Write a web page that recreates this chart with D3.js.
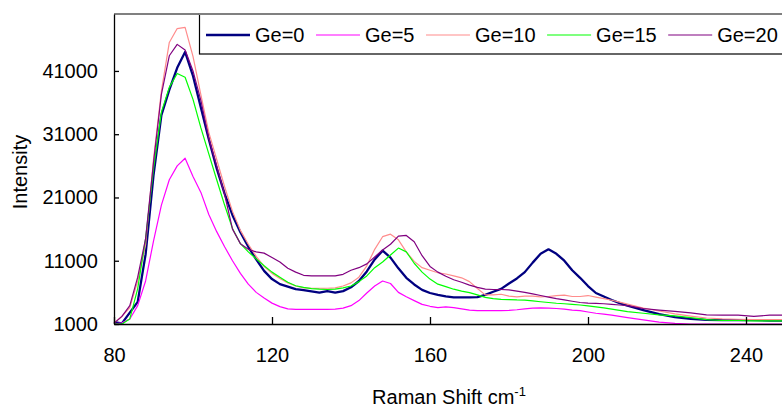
<!DOCTYPE html>
<html>
<head>
<meta charset="utf-8">
<script src="https://cdn.jsdelivr.net/npm/d3@7"></script>
<style>
  body { margin: 0; background: #fff; }
  svg text { font-family: Arial, "Liberation Sans", sans-serif; fill: #000; }
</style>
</head>
<body>
<svg id="chart"></svg>
<script>
// Raman shift sample points (cm-1)
var shift = [80,82,84,86,88,90,92,94,96,98,100,102,104,106,108,110,112,114,116,118,
  120,122,124,126,128,130,132,134,136,138,140,142,144,146,148,150,152,154,156,158,
  160,162,164,166,168,170,172,174,176,178,180,182,184,186,188,190,192,194,196,198,
  200,202,204,206,208,210,214,218,222,226,230,234,238,242,246,250];

var ge0 = [1300,1100,2800,4500,12000,24500,34000,38000,41500,44000,40200,35200,30200,25600,21600,18200,15500,13200,11200,9400,
  8100,7300,6900,6500,6350,6150,5950,6200,5950,6200,6800,7800,9300,11200,12600,11500,9800,8300,7250,6400,
  5900,5600,5350,5200,5200,5200,5250,5600,6100,6550,7400,8200,9200,10700,12100,12800,12100,11000,9500,8300,
  7000,5900,5350,4800,4300,3900,3200,2550,2100,1800,1650,1600,1600,1600,1550,1550];

var ge5 = [1000,1200,1800,3900,7800,14100,19800,23800,26000,27200,24300,21800,18300,15600,13200,11000,9000,7300,6000,5100,
  4300,3750,3400,3300,3300,3300,3300,3300,3350,3500,3900,4700,5900,7000,7800,7400,6000,5300,4700,4100,
  3800,3600,3700,3600,3400,3200,3100,3100,3100,3100,3150,3250,3400,3500,3550,3500,3450,3350,3200,3100,
  2900,2700,2550,2400,2200,2000,1650,1300,1100,1000,1000,1000,1000,1000,1000,1000];

var ge10 = [1200,2200,3600,7800,13500,27000,37800,45500,47700,47900,43300,37200,31300,27000,22700,18800,15800,13600,11700,10100,
  9000,8200,7500,7000,6700,6650,6650,6650,6700,7000,7500,8400,10200,12800,14800,15200,14300,12400,10900,9900,
  9500,9100,8900,8600,8300,7700,6600,5600,5600,5700,5400,5300,5400,5400,5300,5350,5500,5550,5350,5350,
  5500,5250,5000,4750,4450,4150,3500,3050,2600,2250,1950,1800,1750,1700,1700,1700];

var ge15 = [1000,1000,1800,6600,14500,25500,34500,38400,40600,40000,36500,32000,27900,23800,19800,16100,13700,12400,11300,10200,
  9200,8400,7600,7050,6800,6600,6500,6450,6500,6700,7000,7700,8600,9900,10800,11900,13000,12400,10600,9200,
  8100,7300,6900,6500,6200,5950,5600,5200,5000,4900,4850,4800,4780,4650,4520,4400,4280,4200,4100,4000,
  3850,3720,3550,3350,3150,2950,2700,2450,2280,2000,1700,1550,1550,1500,1500,1500];

var ge20 = [1100,2200,3900,8400,14500,26500,37300,43400,45200,44300,41000,36300,30400,26000,21500,16000,13700,12800,12400,12200,
  11500,10800,9800,9200,8700,8600,8600,8600,8600,8850,9500,9900,10500,11600,12700,13600,14900,15000,14000,11800,
  10100,9200,8550,8000,7600,7150,6800,6500,6450,6450,6400,6200,6000,5750,5500,5250,5000,4800,4600,4400,
  4300,4250,4200,4100,4000,3900,3450,3200,3000,2750,2450,2400,2400,2200,2400,2400];

var seriesNames = ["Ge=0", "Ge=5", "Ge=10", "Ge=15", "Ge=20"];
var seriesValues = [ge0, ge5, ge10, ge15, ge20];
var seriesColors = ["#000080", "#ff00ff", "#ff8c8c", "#00ff00", "#800080"];
var seriesWidths = [2.3, 1.2, 1.2, 1.2, 1.2];

var xTicks = [80, 120, 160, 200, 240];
var yTicks = [1000, 11000, 21000, 31000, 41000];

var screen = {width: 782, height: 408};
var plot = {left: 114, top: 14, bottom: 324};

var svg = d3.select("#chart")
    .attr("width", screen.width)
    .attr("height", screen.height);

var xScale = d3.scaleLinear()
    .domain([80, 250])
    .range([plot.left, plot.left + 170 * 3.95]);

var yScale = d3.scaleLinear()
    .domain([1000, 50000])
    .range([plot.bottom, plot.top]);

// gray top edge of the plot area
svg.append("line")
    .attr("x1", plot.left).attr("x2", screen.width)
    .attr("y1", plot.top).attr("y2", plot.top)
    .attr("stroke", "#808080")
    .attr("stroke-width", 2);

// lines
var lineGen = d3.line()
    .x(function(d, i) { return xScale(shift[i]); })
    .y(function(d) { return yScale(d); });

svg.append("g")
    .selectAll("path")
    .data(seriesValues)
    .enter()
    .append("path")
    .attr("fill", "none")
    .attr("stroke", function(d, i) { return seriesColors[i]; })
    .attr("stroke-width", function(d, i) { return seriesWidths[i]; })
    .attr("stroke-linejoin", "round")
    .attr("d", lineGen);

// axes
var xAxis = d3.axisBottom(xScale)
    .tickValues(xTicks)
    .tickSizeInner(-7)
    .tickSizeOuter(0)
    .tickPadding(24);

var yAxis = d3.axisLeft(yScale)
    .tickValues(yTicks)
    .tickFormat(d3.format("d"))
    .tickSizeInner(-5)
    .tickSizeOuter(0)
    .tickPadding(16);

var gx = svg.append("g")
    .attr("transform", "translate(0," + plot.bottom + ")")
    .call(xAxis);

var gy = svg.append("g")
    .attr("transform", "translate(" + plot.left + ",0)")
    .call(yAxis);

[gx, gy].forEach(function(g) {
    g.selectAll("path, line").attr("stroke", "#000").attr("stroke-width", 1.3);
    g.selectAll("text").style("font-size", "20px")
        .style("font-family", "Arial, 'Liberation Sans', sans-serif");
});

// axis titles
var xt = svg.append("text")
    .attr("x", 449)
    .attr("y", 404)
    .attr("text-anchor", "middle")
    .style("font-size", "20px");
xt.append("tspan").text("Raman Shift cm");
xt.append("tspan").text("-1").attr("dy", -8).style("font-size", "13px");

svg.append("text")
    .attr("transform", "translate(27,172) rotate(-90)")
    .attr("text-anchor", "middle")
    .style("font-size", "20px")
    .text("Intensity");

// legend
var legend = svg.append("g");
legend.append("rect")
    .attr("x", 199.5).attr("y", 14)
    .attr("width", 620).attr("height", 40)
    .attr("fill", "#fff")
    .attr("stroke", "#000")
    .attr("stroke-width", 1.2);
svg.append("line")
    .attr("x1", 199).attr("x2", screen.width)
    .attr("y1", plot.top).attr("y2", plot.top)
    .attr("stroke", "#808080")
    .attr("stroke-width", 2);

var lx = 206;
seriesNames.forEach(function(name, i) {
    legend.append("line")
        .attr("x1", lx).attr("x2", lx + 44)
        .attr("y1", 35).attr("y2", 35)
        .attr("stroke", seriesColors[i])
        .attr("stroke-width", seriesWidths[i]);
    var t = legend.append("text")
        .attr("x", lx + 49)
        .attr("y", 41.5)
        .style("font-size", "20px")
        .text(name);
    lx = lx + 49 + t.node().getComputedTextLength() + 11.5;
});
</script>
</body>
</html>
